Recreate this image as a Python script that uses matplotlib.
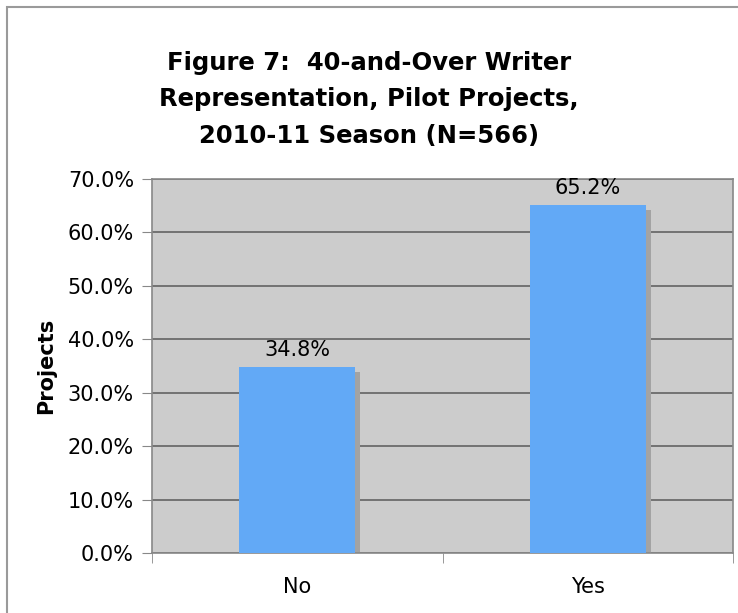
import matplotlib
matplotlib.use("Agg")
import matplotlib.pyplot as plt
from matplotlib import transforms
from matplotlib.patches import Rectangle
from matplotlib.ticker import FuncFormatter

categorias = ["No", "Yes"]
porcentajes = [34.8, 65.2]
titulo = "Figure 7:  40-and-Over Writer\nRepresentation, Pilot Projects,\n2010-11 Season (N=566)"

azul = "#62A9F6"
sombra = "#A3A3A3"
fondo = "#CCCCCC"

fig = plt.figure(figsize=(7.38, 6.13), dpi=100)
ax = fig.add_axes([152 / 738, 1 - 553 / 613, 581 / 738, 374 / 613])

# marco exterior del gráfico
fig.patches.append(Rectangle((7 / 738, -0.1), 1.2, 1 - 7 / 613 + 0.1,
                             transform=fig.transFigure, fill=False,
                             edgecolor="#9A9A9A", linewidth=1.5))

ax.set_facecolor(fondo)
x = list(range(len(categorias)))

# sombra desplazada unos píxeles a la derecha y abajo
desplazado = transforms.offset_copy(ax.transData, fig=fig, x=5, y=-5, units="dots")
sombras = ax.bar(x, porcentajes, width=0.4, color=sombra, zorder=2)
for b in sombras:
    b.set_transform(desplazado)
barras = ax.bar(x, porcentajes, width=0.4, color=azul, zorder=3)

for xi, v in zip(x, porcentajes):
    ax.annotate(f"{v:.1f}%", (xi, v), xytext=(0, 5), textcoords="offset points",
                ha="center", va="bottom", fontsize=15)

ax.set_xlim(-0.5, 1.5)
ax.set_ylim(0, 70)
ax.set_yticks(range(0, 71, 10))
ax.yaxis.set_major_formatter(FuncFormatter(lambda v, _: f"{v:.1f}%"))
ax.yaxis.grid(True, color="#5A5A5A", linewidth=1.1, zorder=1)
ax.set_axisbelow(True)

ax.set_xticks(x)
ax.set_xticklabels(categorias)
ax.set_xticks([-0.5, 0.5, 1.5], minor=True)
ax.tick_params(axis="x", which="major", length=0, pad=17, labelsize=15)
ax.tick_params(axis="x", which="minor", length=7, color="#888888", direction="out")
ax.tick_params(axis="y", length=7, color="#888888", labelsize=15, pad=6)

for lado in ax.spines.values():
    lado.set_color("#888888")
    lado.set_linewidth(1.2)

ax.set_ylabel("Projects", fontsize=15, fontweight="bold", labelpad=8)
fig.suptitle(titulo, y=1 - 51 / 613, va="top", fontsize=17.5, fontweight="bold",
             linespacing=1.65)

fig.savefig("out.png", dpi=100)
